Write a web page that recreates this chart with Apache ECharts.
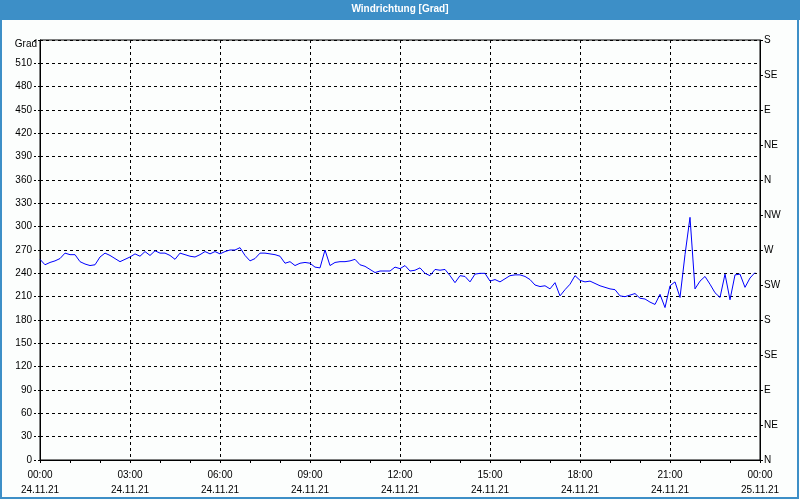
<!DOCTYPE html>
<html>
<head>
<meta charset="utf-8">
<script src="https://cdn.jsdelivr.net/npm/echarts@6/dist/echarts.min.js"></script>
<style>
html,body{margin:0;padding:0;background:#fcfefd;}
#chart{width:800px;height:500px;}
</style>
</head>
<body>
<div id="chart"></div>
<script>
// 10-minute samples of wind direction (degrees), 24.11.21 00:00 – 23:50
const windDir = [
  258, 251, 254, 256, 259, 266, 264, 264, 255, 252,
  250, 251, 261, 266, 263, 259, 255, 258, 261, 265,
  262, 268, 263, 269, 266, 266, 263, 258, 266, 264,
  262, 261, 264, 268, 265, 268, 265, 268, 270, 270,
  273, 263, 256, 259, 266, 266, 265, 264, 262, 253,
  255, 250, 253, 254, 253, 248, 247, 270, 250, 254,
  255, 255, 256, 258, 251, 249, 245, 241, 243, 243,
  243, 248, 246, 250, 243, 244, 247, 240, 237, 245,
  244, 245, 237, 228, 237, 236, 229, 239, 240, 240,
  230, 232, 229, 233, 237, 238, 238, 236, 232, 225,
  223, 224, 220, 228, 211, 219, 226, 237, 231, 229,
  230, 227, 224, 222, 220, 219, 211, 210, 212, 214,
  208, 207, 203, 200, 213, 196, 224, 229, 209, 264,
  312, 220, 230, 236, 226, 215, 209, 239, 206, 238,
  239, 222, 234, 241
];
const sampleStepMinutes = 10;
const xTickTimes = ['00:00','03:00','06:00','09:00','12:00','15:00','18:00','21:00','00:00'];
const xTickDates = ['24.11.21','24.11.21','24.11.21','24.11.21','24.11.21','24.11.21','24.11.21','24.11.21','25.11.21'];
const compassLabels = ['N','NE','E','SE','S','SW','W','NW','N','NE','E','SE','S'];
const titleText = 'Windrichtung [Grad]';
const unitLabel = 'Grad';

const FONT = 'Liberation Sans';
const chart = echarts.init(document.getElementById('chart'));
const seriesData = windDir.map((v, i) => [i * sampleStepMinutes, v]);

chart.setOption({
  backgroundColor: '#fcfefd',
  animation: false,
  title: {
    text: titleText,
    left: 'center',
    top: 0,
    padding: [4, 5],
    textStyle: { color: '#ffffff', fontSize: 10, fontWeight: 'bold', fontFamily: FONT }
  },
  graphic: [
    { type: 'rect', z: -1, shape: { x: 0, y: 0, width: 800, height: 20 }, style: { fill: '#3d8fc7' } },
    { type: 'rect', z: 10, shape: { x: 1, y: 1, width: 797, height: 497 }, style: { fill: null, stroke: '#3d8fc7', lineWidth: 2 } },
    { type: 'text', z: 10, x: 37, y: 44, style: { text: unitLabel, align: 'right', verticalAlign: 'middle', fill: '#000', font: '10px "Liberation Sans"' } }
  ],
  grid: { left: 40, right: 40, top: 40, bottom: 40, show: true, borderColor: '#000', borderWidth: 1, backgroundColor: 'transparent' },
  xAxis: {
    type: 'value', min: 0, max: 1440, interval: 180,
    axisLine: { show: true, lineStyle: { color: '#000', width: 1 } },
    axisTick: { show: true, length: 3, lineStyle: { color: '#000' } },
    minorTick: { show: true, splitNumber: 3, length: 3, lineStyle: { color: '#000' } },
    splitLine: { show: true, lineStyle: { color: '#000', type: [3, 3], width: 1 } },
    axisLabel: {
      margin: 8, color: '#000', fontSize: 10, fontFamily: FONT, lineHeight: 15,
      formatter: v => { const i = Math.round(v / 180); return xTickTimes[i] + '\n' + xTickDates[i]; }
    }
  },
  yAxis: [
    {
      type: 'value', min: 0, max: 540, interval: 30, position: 'left',
      axisLine: { show: true, lineStyle: { color: '#000' } },
      axisTick: { show: true, length: 7, lineStyle: { color: '#000', type: [2, 2] } },
      splitLine: { show: true, lineStyle: { color: '#000', type: [3, 3], width: 1 } },
      axisLabel: { margin: 8, color: '#000', fontSize: 10, fontFamily: FONT, formatter: v => (v === 540 ? '' : String(v)) }
    },
    {
      type: 'value', min: 0, max: 540, interval: 45, position: 'right',
      axisLine: { show: true, lineStyle: { color: '#000' } },
      axisTick: { show: true, length: 3, lineStyle: { color: '#000' } },
      splitLine: { show: false },
      axisLabel: { margin: 4, color: '#000', fontSize: 10, fontFamily: FONT, formatter: v => compassLabels[Math.round(v / 45)] }
    }
  ],
  series: [{
    type: 'line', yAxisIndex: 0, data: seriesData, showSymbol: false, symbol: 'none',
    lineStyle: { color: '#0000ff', width: 1 }, z: 5
  }]
});
</script>
</body>
</html>
